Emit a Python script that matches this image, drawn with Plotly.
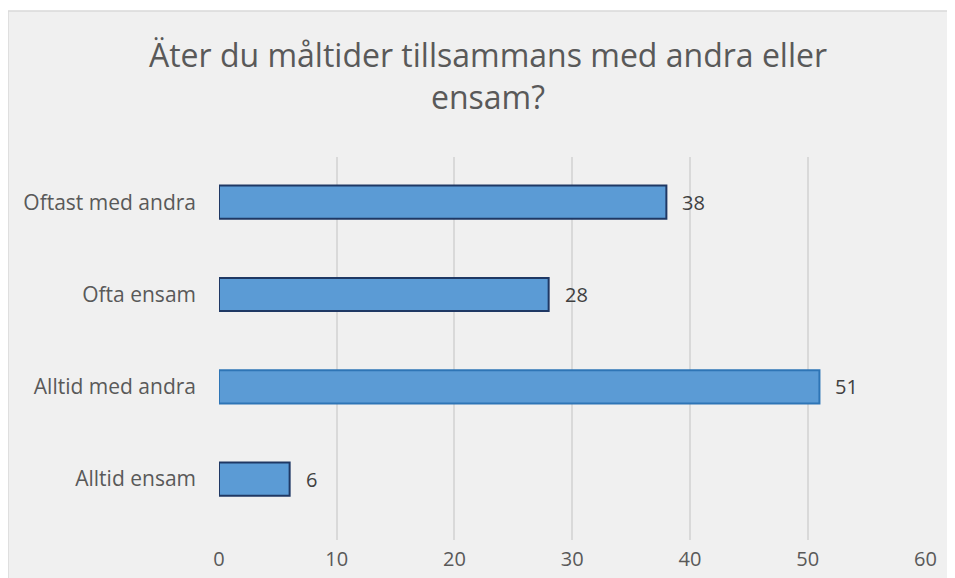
import plotly.graph_objects as go

categories = ["Alltid ensam", "Alltid med andra", "Ofta ensam", "Oftast med andra"]
values = [6, 51, 28, 38]
x_ticks = [0, 10, 20, 30, 40, 50, 60]
title_text = "Äter du måltider tillsammans med andra eller<br>ensam?"

fill_color = "#5b9bd5"
edge_colors = ["#1f3864", "#2e75b6", "#1f3864", "#1f3864"]

OFF = 8  # page body margin
W, H = 955, 578
L, R, T, B = 219 - OFF, 955 - 926 + OFF, 157 - OFF, 578 - 540 + OFF
pw, ph = W - L - R, H - T - B

fig = go.Figure()
fig.add_trace(go.Bar(
    x=values, y=categories, orientation="h",
    marker=dict(color=fill_color, line=dict(color=edge_colors, width=2)),
    width=0.36, hoverinfo="skip",
))

annotations = [
    dict(x=v, y=c, xref="x", yref="y", text=str(v), showarrow=False,
         xanchor="left", xshift=14, font=dict(family="Open Sans", size=20, color="#404040"))
    for c, v in zip(categories, values)
]

fig.update_layout(
    width=W, height=H,
    margin=dict(l=L, r=R, t=T, b=B, pad=0),
    paper_bgcolor="white",
    plot_bgcolor="rgba(0,0,0,0)",
    showlegend=False,
    title=dict(text=title_text, x=(488 - OFF) / W, xanchor="center", y=1 - 59 / H, yanchor="top",
               font=dict(family="Open Sans", size=32, color="#595959")),
    xaxis=dict(range=[0, 60.05], tickvals=x_ticks, showgrid=True, gridcolor="#d9d9d9", gridwidth=1.5,
               zeroline=True, zerolinecolor="#f0f0f0", zerolinewidth=2, showline=False,
               ticks="", tickfont=dict(family="Open Sans", size=20, color="#595959"), ticklabelstandoff=5),
    yaxis=dict(range=[-0.66, 3.49], showgrid=False, zeroline=False, showline=False, ticks="",
               tickfont=dict(family="Open Sans", size=21, color="#595959"), ticklabelstandoff=22),
    annotations=annotations,
    shapes=[dict(type="rect", xref="paper", yref="paper", layer="below",
                 x0=(8 - OFF - L) / pw, x1=(W + 40 - L) / pw,
                 y0=-(B + 40) / ph, y1=(H - B - (11 - OFF)) / ph,
                 fillcolor="#f0f0f0", line=dict(color="#d9d9d9", width=1.5))],
)

fig.write_html("out.html")
